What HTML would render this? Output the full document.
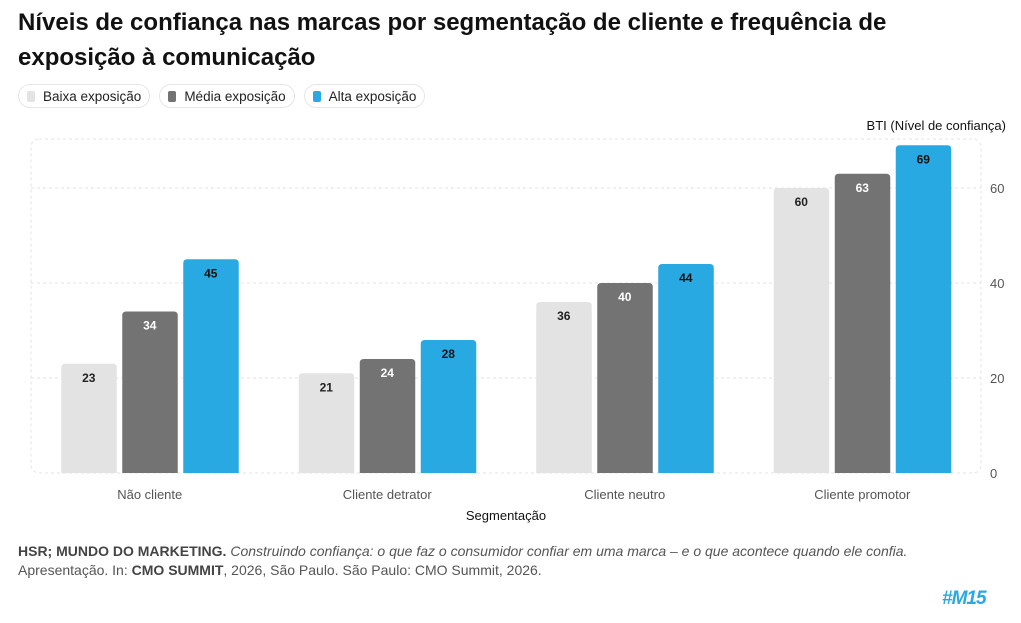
<!DOCTYPE html>
<html><head><meta charset="utf-8"><style>
body{margin:0;width:1021px;height:623px;background:#fff;font-family:"Liberation Sans",sans-serif;overflow:hidden;position:relative}
.title{position:absolute;left:18px;top:5px;font-size:24px;font-weight:bold;line-height:35px;color:#111;width:930px}
.legend{position:absolute;top:84px;left:18px;display:flex;gap:9px}
.li{border:1px solid #e6e6e6;border-radius:12px;height:22px;padding:0 8px;display:flex;align-items:center;font-size:13.5px;color:#222}
.sw{width:8px;height:11px;border-radius:2px;margin-right:8px}
.src{position:absolute;left:18px;top:542px;font-size:14px;line-height:19px;color:#555}
.src b{color:#444}
.logo{position:absolute;left:942px;top:588px;font-size:19px;font-weight:bold;color:#29a9e1;font-style:italic;letter-spacing:-1px}
</style></head><body>
<div class="title">Níveis de confiança nas marcas por segmentação de cliente e frequência de exposição à comunicação</div>
<div class="legend">
<div class="li"><span class="sw" style="background:#e3e3e3"></span>Baixa exposição</div>
<div class="li"><span class="sw" style="background:#737373"></span>Média exposição</div>
<div class="li"><span class="sw" style="background:#29a9e1"></span>Alta exposição</div>
</div>
<svg id="chart" width="1021" height="623" style="position:absolute;left:0;top:0"></svg>
<div class="src"><b>HSR; MUNDO DO MARKETING.</b> <i>Construindo confiança: o que faz o consumidor confiar em uma marca – e o que acontece quando ele confia.</i><br>Apresentação. In: <b>CMO SUMMIT</b>, 2026, São Paulo. São Paulo: CMO Summit, 2026.</div>
<div class="logo">#M15</div>
<script>
const categories=["Não cliente","Cliente detrator","Cliente neutro","Cliente promotor"];
const baixa=[23,21,36,60];
const media=[34,24,40,63];
const alta=[45,28,44,69];
const yTicks=[0,20,40,60];
const series=[{n:"baixa",v:baixa,c:"#e3e3e3",t:"#222"},{n:"media",v:media,c:"#737373",t:"#fff"},{n:"alta",v:alta,c:"#29a9e1",t:"#111"}];
const svg=document.getElementById('chart');const NS="http://www.w3.org/2000/svg";
const L=31,R=981,T=139,B=473;
const y=v=>B-v*4.75;
const gw=(R-L)/categories.length;
function mk(tag,a,txt){const e=document.createElementNS(NS,tag);for(const k in a)e.setAttribute(k,a[k]);if(txt!==undefined)e.textContent=txt;svg.appendChild(e);return e;}
let f=mk('rect',{x:L,y:T,width:R-L,height:B-T,rx:8,fill:'none',stroke:'#e3e3e3','stroke-dasharray':'3 3'});

yTicks.forEach(t=>{
 if(t>0){let g=mk('line',{x1:L,x2:R,y1:y(t),y2:y(t),stroke:'#e3e3e3','stroke-dasharray':'3 3'});}
 let tl=mk('text',{x:990,y:y(t)+5,'font-size':13,fill:'#555'},t);
 
});
let yt=mk('text',{x:1006,y:130,'font-size':13,fill:'#111','text-anchor':'end'},'BTI (Nível de confiança)');

categories.forEach((c,i)=>{
 const cx=L+gw*(i+0.5);
 series.forEach((s,j)=>{
  const bx=cx+(j-1)*61-27.5, v=s.v[i];
  let r=mk('path',{d:`M${bx},${B} V${y(v)+4} q0,-4 4,-4 h47.5 q4,0 4,4 V${B} Z`,fill:s.c});
  
  let l=mk('text',{x:bx+27.5,y:y(v)+18,'font-size':12,'font-weight':'bold',fill:s.t,'text-anchor':'middle'},v);
  
 });
 let xl=mk('text',{x:cx,y:499,'font-size':13,fill:'#555','text-anchor':'middle'},c);
 
});
let xt=mk('text',{x:506,y:520,'font-size':13,fill:'#111','text-anchor':'middle'},'Segmentação');

</script>
</body></html>
